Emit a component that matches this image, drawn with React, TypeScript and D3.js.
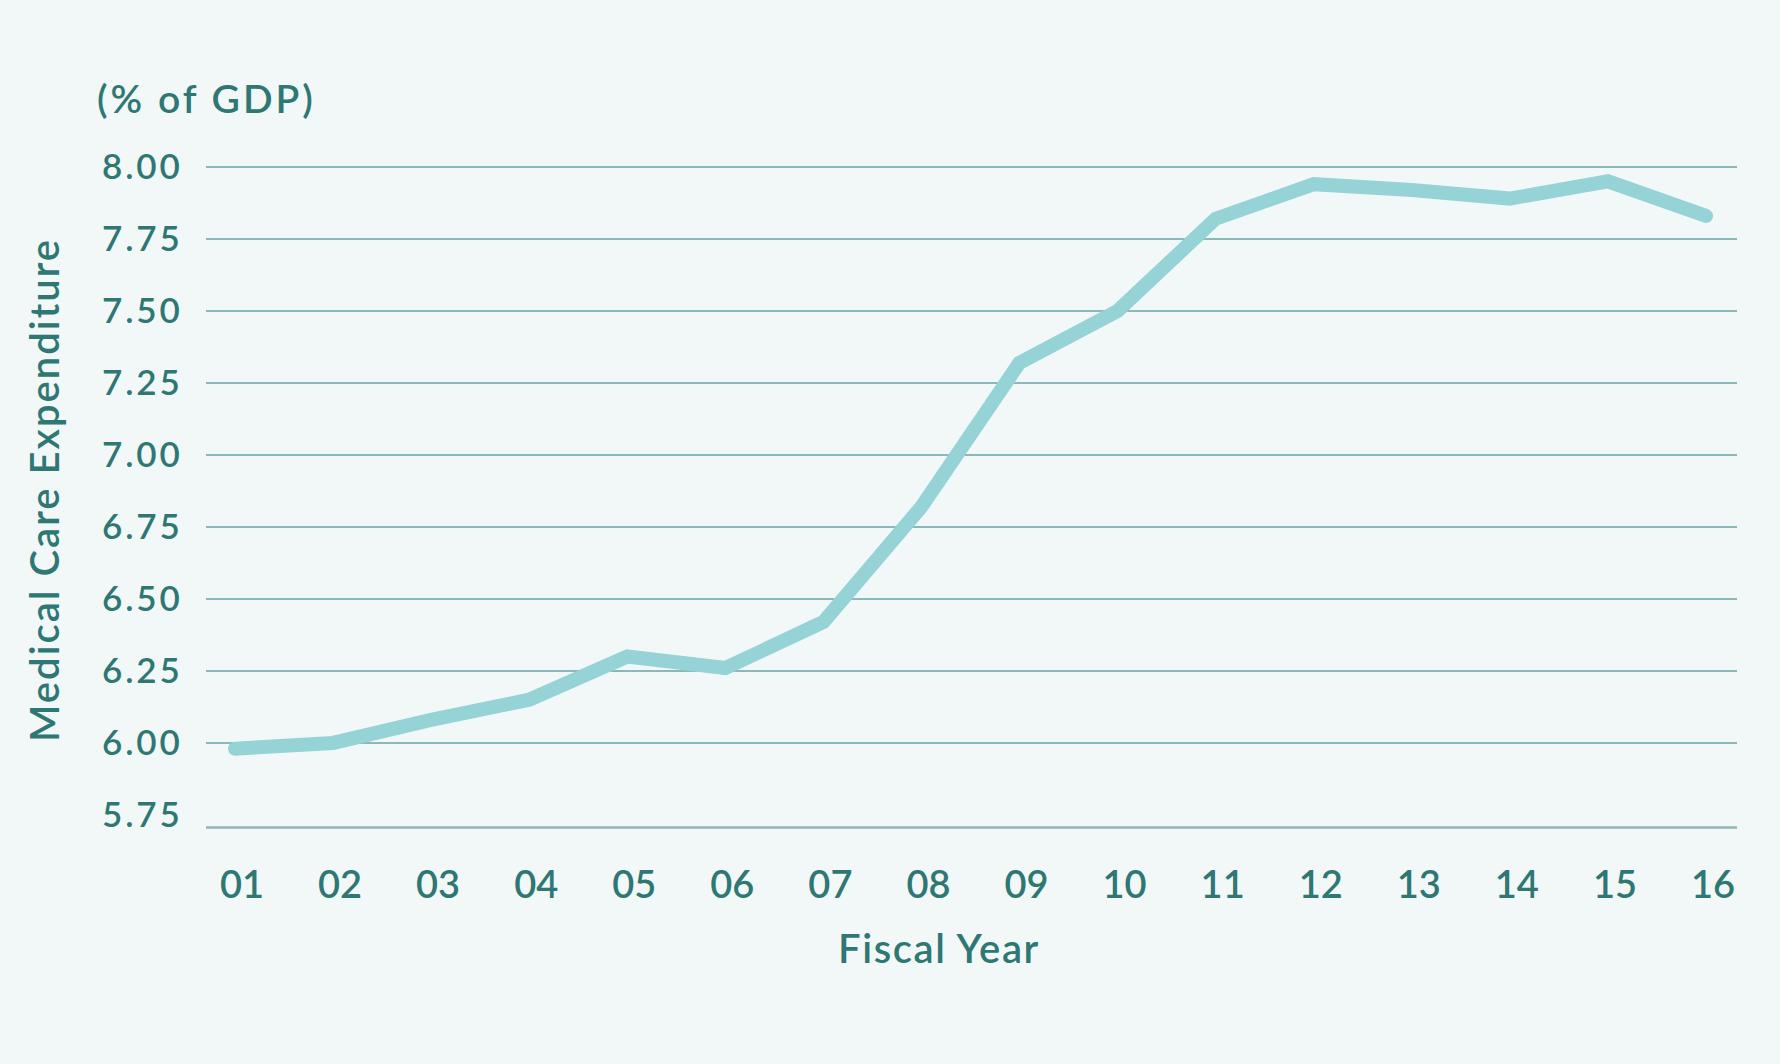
import React from "react";
import * as d3 from "d3";

const years = ["01", "02", "03", "04", "05", "06", "07", "08", "09", "10", "11", "12", "13", "14", "15", "16"];
const values = [5.98, 6.0, 6.08, 6.15, 6.3, 6.26, 6.42, 6.82, 7.32, 7.5, 7.82, 7.94, 7.92, 7.89, 7.95, 7.83];
const yTicks = [5.75, 6.0, 6.25, 6.5, 6.75, 7.0, 7.25, 7.5, 7.75, 8.0];
const yDomain = [5.706, 8.0];

const W = 1780;
const H = 1064;
const FONT = "Lato, 'Open Sans', sans-serif";
const TEXT = "#2e7773";
const GRID = "#8db8b8";
const LINE = "#95d3d7";

export default function App() {
  const x = d3.scalePoint<string>().domain(years).range([235, 1706]);
  const y = d3.scaleLinear().domain(yDomain).range([827.6, 166.9]);
  const gridLeft = 206;
  const gridRight = 1737;
  const line = d3
    .line<number>()
    .x((_, i) => x(years[i]) as number)
    .y((d) => y(d));
  const path = line(values) || "";

  return (
    <svg
      width={W}
      height={H}
      style={{ position: "absolute", left: 0, top: 0, display: "block" }}
      fontFamily={FONT}
    >
      <rect x={0} y={0} width={W} height={H} fill="#f2f8f8" />
      {/* gridlines */}
      {yTicks.slice(1).map((t) => (
        <line key={t} x1={gridLeft} x2={gridRight} y1={y(t)} y2={y(t)} stroke={GRID} strokeWidth={2} />
      ))}
      <line x1={gridLeft} x2={gridRight} y1={y(yDomain[0])} y2={y(yDomain[0])} stroke={GRID} strokeWidth={2.5} />
      {/* y tick labels */}
      {yTicks.map((t) => (
        <text
          key={"l" + t}
          x={182.5}
          y={y(t) + 12}
          textAnchor="end"
          fontSize={35}
          fontWeight={600}
          letterSpacing={2.8}
          fill={TEXT}
        >
          {d3.format(".2f")(t)}
        </text>
      ))}
      {/* x tick labels */}
      {years.map((yr) => (
        <text
          key={"x" + yr}
          x={(x(yr) as number) + 7}
          y={898}
          textAnchor="middle"
          fontSize={38}
          fontWeight={600}
          fill={TEXT}
        >
          {yr}
        </text>
      ))}
      {/* data line */}
      <path d={path} fill="none" stroke={LINE} strokeWidth={14} strokeLinecap="round" strokeLinejoin="miter" />
      {/* unit label */}
      <text x={97} y={113} fontSize={39} fontWeight={600} letterSpacing={3} fill={TEXT}>
        (% of GDP)
      </text>
      {/* axis titles */}
      <text
        transform={`translate(59,490) rotate(-90)`}
        textAnchor="middle"
        fontSize={40}
        fontWeight={600}
        letterSpacing={2}
        fill={TEXT}
      >
        Medical Care Expenditure
      </text>
      <text x={939} y={963} textAnchor="middle" fontSize={40} fontWeight={600} letterSpacing={1.6} fill={TEXT}>
        Fiscal Year
      </text>
    </svg>
  );
}
